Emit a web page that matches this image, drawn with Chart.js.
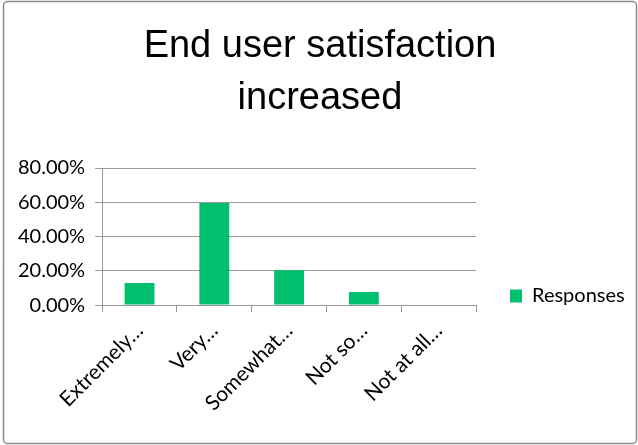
<!DOCTYPE html>
<html>
<head>
<meta charset="utf-8">
<script src="https://cdn.jsdelivr.net/npm/chart.js@4"></script>
<style>
  html, body { margin: 0; padding: 0; background: #fff; }
  #wrap { width: 638px; height: 445px; position: relative; }
</style>
</head>
<body>
<div id="wrap"><canvas id="chart"></canvas></div>
<script>
// data
const categories = ['Extremely…', 'Very…', 'Somewhat…', 'Not so…', 'Not at all…'];
const responses = [12.9, 59.6, 20.3, 7.6, 0];
const yTicks = [0, 20, 40, 60, 80];

const FONT = 'Lato, "Open Sans", sans-serif';
const TITLE_FONT = '"Liberation Sans", Arial, sans-serif';

// outer frame like the office chart border
const framePlugin = {
    id: 'frame',
    afterDraw(chart) {
        const ctx = chart.ctx;
        ctx.save();
        ctx.strokeStyle = '#8c8c8c';
        ctx.lineWidth = 1.5;
        ctx.beginPath();
        ctx.roundRect(3.5, 1.5, chart.width - 5, chart.height - 3, 4);
        ctx.stroke();
        ctx.restore();
    }
};

new Chart(document.getElementById('chart'), {
    type: 'bar',
    data: {
        labels: categories,
        datasets: [{
            label: 'Responses',
            data: responses,
            backgroundColor: '#00c06e',
            barPercentage: 0.4,
            categoryPercentage: 1.0
        }]
    },
    options: {
        responsive: true,
        maintainAspectRatio: false,
        animation: false,
        layout: { padding: { top: 8, left: 8, right: 6, bottom: 23 } },
        plugins: {
            title: {
                display: true,
                text: ['End user satisfaction', 'increased'],
                color: '#000',
                font: { family: TITLE_FONT, size: 38, weight: 'normal', lineHeight: '52px' },
                padding: { top: 13, bottom: 43 }
            },
            legend: {
                position: 'right',
                title: {
                    display: true,
                    text: '',
                    font: { size: 10, lineHeight: 1.2 },
                    padding: { top: 0, bottom: 150 }
                },
                labels: {
                    color: '#000',
                    font: { family: FONT, size: 20 },
                    boxWidth: 12,
                    boxHeight: 13,
                    padding: 34
                }
            },
            tooltip: { enabled: false }
        },
        scales: {
            x: {
                afterFit(scale) {
                    scale.paddingLeft = 0;
                    scale.paddingRight = 0;
                },
                grid: {
                    display: true,
                    offset: true,
                    drawOnChartArea: false,
                    tickLength: 7,
                    color: '#999'
                },
                border: { color: '#999' },
                ticks: {
                    color: '#000',
                    font: { family: FONT, size: 21 },
                    maxRotation: 45,
                    minRotation: 45,
                    padding: 6
                }
            },
            y: {
                min: 0,
                max: 80,
                afterBuildTicks(scale) {
                    scale.ticks = yTicks.map(v => ({ value: v }));
                },
                grid: { color: '#999', tickLength: 7 },
                border: { color: '#999' },
                ticks: {
                    color: '#000',
                    font: { family: FONT, size: 20 },
                    padding: 10,
                    callback: v => v.toFixed(2) + '%'
                }
            }
        }
    },
    plugins: [framePlugin]
});
</script>
</body>
</html>
